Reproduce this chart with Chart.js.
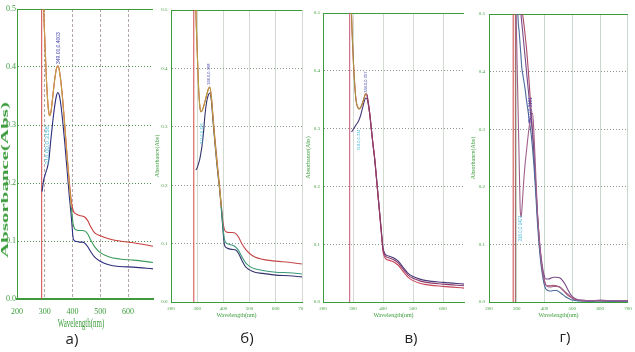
<!DOCTYPE html>
<html>
<head>
<meta charset="utf-8">
<script src="https://cdn.jsdelivr.net/npm/chart.js@4.4.1/dist/chart.umd.min.js"></script>
<style>
  html, body { margin: 0; padding: 0; background: #fff; }
  #wrap { position: relative; width: 635px; height: 352px; overflow: hidden; background: #fff; }
  canvas { position: absolute; top: 0; }
  .lbl { position: absolute; font-family: "Open Sans", sans-serif; font-size: 15px; color: #222; transform: translate(-50%, -50%); }
  .ta { position: absolute; font-family: "Liberation Serif", serif; color: #3c9c3c; white-space: nowrap; }
</style>
</head>
<body>
<div id="wrap">
  <canvas id="cA" width="160" height="320" style="left:0px"></canvas>
  <canvas id="cB" width="160" height="319" style="left:150px"></canvas>
  <canvas id="cC" width="164" height="319" style="left:303px;background:#fff"></canvas>
  <canvas id="cD" width="168" height="319" style="left:467px"></canvas>
  <div class="ta" style="left:4px;top:180px;font-size:11px;font-weight:bold;transform:translate(-50%,-50%) rotate(-90deg) scaleX(1.9)">Absorbance(Abs)</div>
  <div class="ta" style="left:81px;top:323px;font-size:12px;transform:translate(-50%,-50%) scaleX(0.58)">Wavelength(nm)</div>
  <div class="lbl" style="left:72px;top:338px">а)</div>
  <div class="lbl" style="left:247px;top:337px">б)</div>
  <div class="lbl" style="left:411px;top:337px">в)</div>
  <div class="lbl" style="left:565px;top:336px">г)</div>
</div>
<script>
const xTickVals = [200, 300, 400, 500, 600, 700];
const yTickVals = [0, 0.1, 0.2, 0.3, 0.4, 0.5];

// panel a)
const wlA = [290, 293, 296, 300, 305, 310, 315, 318, 322, 328, 335, 342, 347, 352, 358, 365, 372, 380, 388, 396, 402, 408, 415, 425, 435, 445, 455, 465, 480, 500, 530, 570, 620, 690];
const redA = [null, 0.58, 0.5, 0.45, 0.39, 0.345, 0.32, 0.316, 0.322, 0.345, 0.375, 0.397, 0.402, 0.396, 0.376, 0.342, 0.3, 0.25, 0.205, 0.168, 0.153, 0.148, 0.146, 0.144, 0.143, 0.141, 0.135, 0.125, 0.114, 0.109, 0.104, 0.1, 0.097, 0.091];
const greenA = [null, 0.58, 0.5, 0.45, 0.39, 0.345, 0.32, 0.316, 0.322, 0.345, 0.375, 0.397, 0.401, 0.395, 0.374, 0.34, 0.298, 0.248, 0.2, 0.158, 0.13, 0.121, 0.119, 0.118, 0.118, 0.117, 0.112, 0.102, 0.09, 0.08, 0.073, 0.069, 0.067, 0.063];
const navyA = [0.185, 0.195, 0.205, 0.212, 0.22, 0.228, 0.24, 0.255, 0.275, 0.302, 0.33, 0.35, 0.356, 0.352, 0.335, 0.305, 0.27, 0.225, 0.18, 0.14, 0.106, 0.1, 0.099, 0.098, 0.098, 0.096, 0.09, 0.082, 0.072, 0.065, 0.059, 0.056, 0.055, 0.052];
const cutA = 289;
const tagWlA = [349, 311];
const tagAbsA = [0.405, 0.232];
const tagTextA = ['349.00,0.4003', '316.00,0.3158'];

// panel б)
const wlB = [292, 295, 300, 305, 310, 314, 318, 324, 330, 337, 343, 348, 354, 361, 368, 374, 380, 386, 392, 398, 404, 412, 422, 435, 447, 458, 470, 485, 500, 520, 550, 600, 650, 700];
const redB = [0.58, 0.5, 0.43, 0.37, 0.335, 0.326, 0.327, 0.334, 0.344, 0.356, 0.365, 0.368, 0.352, 0.314, 0.278, 0.25, 0.222, 0.195, 0.166, 0.138, 0.124, 0.12, 0.119, 0.119, 0.117, 0.111, 0.1, 0.09, 0.083, 0.077, 0.073, 0.07, 0.068, 0.065];
const greenB = [0.58, 0.5, 0.43, 0.37, 0.335, 0.326, 0.327, 0.334, 0.344, 0.356, 0.365, 0.367, 0.35, 0.312, 0.273, 0.245, 0.219, 0.193, 0.163, 0.13, 0.107, 0.101, 0.099, 0.097, 0.094, 0.088, 0.078, 0.067, 0.061, 0.057, 0.054, 0.051, 0.05, 0.048];
const navyB = [null, 0.226, 0.23, 0.237, 0.245, 0.255, 0.266, 0.29, 0.322, 0.345, 0.355, 0.358, 0.345, 0.306, 0.27, 0.241, 0.215, 0.19, 0.16, 0.125, 0.098, 0.093, 0.091, 0.09, 0.089, 0.083, 0.072, 0.06, 0.055, 0.051, 0.049, 0.046, 0.045, 0.043];
const cutB = 287;
const tagWlB = [346, 317];
const tagAbsB = [0.372, 0.27];
const tagTextB = ['346.0,0.368', '317.0,0.326'];

// panel в)
const wlC = [292, 295, 300, 306, 311, 316, 320, 326, 333, 338, 342, 346, 350, 356, 361, 366, 372, 378, 383, 389, 394, 400, 405, 411, 422, 433, 450, 467, 483, 500, 520, 544, 600, 670];
const redC = [0.58, 0.5, 0.431, 0.374, 0.346, 0.337, 0.334, 0.337, 0.346, 0.355, 0.36, 0.359, 0.348, 0.325, 0.3, 0.275, 0.249, 0.215, 0.186, 0.152, 0.123, 0.088, 0.078, 0.074, 0.072, 0.07, 0.064, 0.053, 0.043, 0.037, 0.033, 0.03, 0.027, 0.024];
const mauveC = [0.58, 0.5, 0.431, 0.374, 0.346, 0.337, 0.334, 0.337, 0.346, 0.355, 0.36, 0.359, 0.348, 0.325, 0.3, 0.275, 0.249, 0.215, 0.186, 0.152, 0.124, 0.091, 0.082, 0.078, 0.076, 0.074, 0.068, 0.057, 0.047, 0.041, 0.037, 0.034, 0.031, 0.028];
const navyC = [null, 0.294, 0.298, 0.303, 0.307, 0.311, 0.315, 0.324, 0.338, 0.348, 0.353, 0.352, 0.345, 0.324, 0.3, 0.276, 0.25, 0.217, 0.188, 0.154, 0.126, 0.094, 0.085, 0.081, 0.079, 0.077, 0.071, 0.06, 0.05, 0.044, 0.04, 0.037, 0.034, 0.031];
const cutC = 289;
const tagWlC = [344, 318];
const tagAbsC = [0.362, 0.262];
const tagTextC = ['344.0,0.357', '318.0,0.334'];

// panel г)
const wlD = [296, 300, 304, 309, 312, 315, 318, 321, 325, 329, 335, 341, 346, 352, 357, 362, 368, 374, 380, 386, 392, 398, 404, 412, 422, 432, 443, 454, 465, 475, 483, 495, 506, 520, 535, 560, 600, 650, 700];
const dipD = [0.55, 0.44, 0.35, 0.234, 0.165, 0.147, 0.158, 0.18, 0.21, 0.235, 0.263, 0.29, 0.309, 0.324, 0.328, 0.29, 0.225, 0.16, 0.115, 0.08, 0.055, 0.04, 0.03, 0.027, 0.026, 0.027, 0.027, 0.026, 0.022, 0.017, 0.014, 0.009, 0.006, 0.004, 0.003, 0.002, 0.003, 0.002, 0.002];
const tealD = [null, 0.6, 0.5, 0.467, 0.447, 0.427, 0.407, 0.397, 0.385, 0.373, 0.35, 0.33, 0.312, 0.29, 0.265, 0.235, 0.19, 0.14, 0.1, 0.07, 0.048, 0.032, 0.023, 0.02, 0.019, 0.02, 0.02, 0.017, 0.013, 0.009, 0.007, 0.004, 0.003, 0.002, 0.002, 0.001, 0.002, 0.001, 0.001];
const mauveAD = [null, null, null, null, 0.52, 0.5, 0.485, 0.47, 0.45, 0.43, 0.4, 0.37, 0.345, 0.315, 0.29, 0.255, 0.205, 0.155, 0.115, 0.085, 0.062, 0.047, 0.04, 0.04, 0.041, 0.043, 0.043, 0.042, 0.037, 0.03, 0.022, 0.012, 0.007, 0.004, 0.003, 0.002, 0.003, 0.002, 0.002];
const mauveBD = [null, null, null, null, null, null, 0.52, 0.5, 0.485, 0.468, 0.44, 0.405, 0.37, 0.33, 0.295, 0.255, 0.205, 0.152, 0.11, 0.078, 0.056, 0.04, 0.03, 0.028, 0.028, 0.029, 0.028, 0.026, 0.021, 0.016, 0.012, 0.008, 0.005, 0.003, 0.002, 0.002, 0.002, 0.001, 0.002];
const cutD = [295, 287];
const tagWlD = [350, 316];
const tagAbsD = [0.31, 0.105];
const tagTextD = ['350.0,0.3101', '316.0,0.1471'];

const GREEN = '#3c9c3c';
const NAVYTAG = '#3c3ca8';
const CYANTAG = '#3cb4d4';

function line(wl, vals, color, extra) {
    const data = [];
    wl.forEach((x, i) => { if (vals[i] !== null) data.push({ x: x, y: vals[i] }); });
    return Object.assign({ data: data, borderColor: color, borderWidth: 1.1, pointRadius: 0, cubicInterpolationMode: 'monotone', fill: false }, extra || {});
}

function cutLine(x, color) {
    return { data: [{ x: x, y: 0 }, { x: x, y: 0.5 }], borderColor: color, borderWidth: 1, pointRadius: 0, tension: 0 };
}

// olive where two traces lie on top of each other
function olive(limit, color) {
    return { segment: { borderColor: c => c.p0.parsed.x < limit ? color : undefined } };
}

const topLine = {
    id: 'topLine',
    beforeDatasetsDraw(chart, args, opts) {
        const { ctx, chartArea: a } = chart;
        ctx.save();
        ctx.strokeStyle = opts.color;
        ctx.lineWidth = 1;
        ctx.beginPath();
        ctx.moveTo(a.left, a.top + 0.5);
        ctx.lineTo(a.right, a.top + 0.5);
        ctx.stroke();
        ctx.restore();
    }
};

// small rotated peak readouts
const peakTags = {
    id: 'peakTags',
    afterDatasetsDraw(chart, args, opts) {
        const { ctx, scales } = chart;
        opts.wl.forEach((w, i) => {
            ctx.save();
            ctx.translate(scales.x.getPixelForValue(w), scales.y.getPixelForValue(opts.abs[i]));
            ctx.rotate(-Math.PI / 2);
            ctx.font = opts.sizes[i] + 'px "Liberation Sans"';
            ctx.fillStyle = opts.colors[i];
            ctx.textBaseline = 'middle';
            ctx.fillText(opts.text[i], 0, 0);
            ctx.restore();
        });
    }
};

function panel(id, p, datasets, tags) {
    const tickFont = { family: 'Liberation Serif', size: p.tickSize };
    return new Chart(document.getElementById(id), {
        type: 'line',
        data: { datasets: datasets },
        options: {
            responsive: false,
            animation: false,
            events: [],
            layout: { autoPadding: false, padding: { top: p.top, right: p.right, left: 0, bottom: 0 } },
            plugins: {
                legend: { display: false },
                tooltip: { enabled: false },
                topLine: { color: GREEN },
                peakTags: tags
            },
            scales: {
                x: {
                    type: 'linear', min: 200, max: p.xMax,
                    ticks: { autoSkip: false, maxRotation: 0, padding: p.xPad, color: GREEN, font: tickFont },
                    afterBuildTicks: s => { s.ticks = xTickVals.filter(v => v <= s.max).map(v => ({ value: v })); },
                    grid: { color: p.gridV, drawTicks: false },
                    border: { color: GREEN, width: p.bottomWidth, dash: p.dashV },
                    title: { display: p.titles, text: 'Wavelength(nm)', color: GREEN, font: { family: 'Liberation Serif', size: 6 }, padding: { top: 0, bottom: 0.4 } },
                    afterFit: s => { s.height = p.xh; }
                },
                y: {
                    min: 0, max: 0.5,
                    ticks: { padding: p.yPad, color: GREEN, font: tickFont, callback: v => v.toFixed(1) },
                    afterBuildTicks: s => { s.ticks = yTickVals.map(v => ({ value: v })); },
                    grid: { color: p.gridH, drawTicks: false },
                    border: { color: GREEN, width: 1, dash: [1, 2] },
                    title: { display: p.titles, text: 'Absorbance(Abs)', color: GREEN, font: { family: 'Liberation Serif', size: 6 }, padding: { top: p.yTitlePad, bottom: 0 } },
                    afterFit: s => { s.width = p.yw; }
                }
            }
        },
        plugins: [topLine, peakTags]
    });
}

panel('cA',
    { xMax: 690, top: 9, right: 7, yw: 17, xh: 21, tickSize: 8, xPad: 8.2, yPad: 1, gridH: '#4f8f4f', gridV: '#b4a8a8', dashV: [3, 2], bottomWidth: 2, titles: false, yTitlePad: 0 },
    [
        line(wlA, greenA, '#3c9a5c', olive(394, '#c8a048')),
        line(wlA, redA, '#c83c3c'),
        line(wlA, navyA, '#2c2c7c'),
        cutLine(cutA, '#d04848')
    ],
    { wl: tagWlA, abs: tagAbsA, text: tagTextA, colors: [NAVYTAG, CYANTAG], sizes: [5, 6] });

panel('cB',
    { xMax: 700, top: 10, right: 8, yw: 21, xh: 17, tickSize: 5, xPad: 3.3, yPad: 3.5, gridH: '#8a9a8a', gridV: '#d2dad2', dashV: [], bottomWidth: 1, titles: true, yTitlePad: 3.4 },
    [
        line(wlB, greenB, '#3a9a7a', olive(390, '#b8a040')),
        line(wlB, redB, '#c44848'),
        line(wlB, navyB, '#34346c'),
        cutLine(cutB, '#d04848')
    ],
    { wl: tagWlB, abs: tagAbsB, text: tagTextB, colors: [NAVYTAG, CYANTAG], sizes: [4, 4] });

panel('cC',
    { xMax: 670, top: 13, right: 3, yw: 20, xh: 17, tickSize: 5, xPad: 3.3, yPad: 3, gridH: '#8a9a8a', gridV: '#d2dad2', dashV: [], bottomWidth: 1, titles: true, yTitlePad: 1.4 },
    [
        line(wlC, mauveC, '#8c3c6c', olive(346, '#a8923c')),
        line(wlC, redC, '#c8445a'),
        line(wlC, navyC, '#4a3a7a'),
        cutLine(cutC, '#c85070')
    ],
    { wl: tagWlC, abs: tagAbsC, text: tagTextC, colors: [NAVYTAG, CYANTAG], sizes: [4, 4] });

panel('cD',
    { xMax: 700, top: 14, right: 1, yw: 22, xh: 17, tickSize: 5, xPad: 3.3, yPad: 4, gridH: '#8a9a8a', gridV: '#c8d8cc', dashV: [], bottomWidth: 1, titles: true, yTitlePad: 2.4 },
    [
        line(wlD, dipD, '#a0608c'),
        line(wlD, tealD, '#4a6a9c'),
        line(wlD, mauveAD, '#7a4a88'),
        line(wlD, mauveBD, '#a84a66'),
        cutLine(cutD[0], '#a05a5a'),
        cutLine(cutD[1], '#cc4444')
    ],
    { wl: tagWlD, abs: tagAbsD, text: tagTextD, colors: [NAVYTAG, CYANTAG], sizes: [4.5, 4.5] });
</script>
</body>
</html>
